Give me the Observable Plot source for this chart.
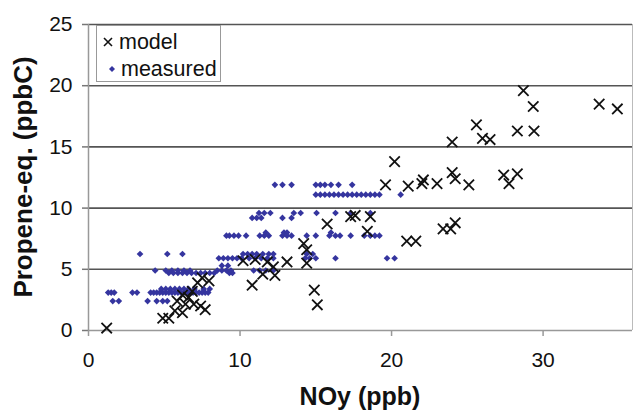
<!DOCTYPE html>
<html>
<head>
<meta charset="utf-8">
<script src="https://cdn.jsdelivr.net/npm/d3@7"></script>
<script src="https://cdn.jsdelivr.net/npm/@observablehq/plot@0.6"></script>
<style>
  html, body { margin: 0; padding: 0; background: #fff; }
  #wrap { position: relative; width: 633px; height: 412px; font-family: "Liberation Sans", Arial, sans-serif; }
  #legend { position: absolute; left: 96px; top: 25px; width: 125px; height: 57px; border: 1px solid #999; background: #fff; box-sizing: border-box; font-size: 21.5px; color: #111; }
  #legend .row { position: absolute; left: 0; height: 24px; display: flex; align-items: center; white-space: nowrap; }
  #legend svg { display: block; }
</style>
</head>
<body>
<div id="wrap"></div>
<script>
// ---- data ----
const xTicks = [0, 10, 20, 30];
const yTicks = [0, 5, 10, 15, 20, 25];
const xTitle = "NOy (ppb)";
const yTitle = "Propene-eq. (ppbC)";
const seriesNames = ["model", "measured"];

// model (× markers)
const modelX = [1.2,
  4.9, 5.3, 5.7, 6.2, 5.85, 6.4, 6.6, 6.2, 6.95, 7.4, 7.7, 6.85, 7.2, 7.5, 7.95,
  10.2, 10.8, 11.0, 11.5, 11.8, 12.3, 12.2, 13.1,
  14.2, 14.4, 14.4, 14.9, 15.1,
  15.75, 17.3, 17.6, 18.6, 18.4,
  19.6, 20.2, 21.1, 22.0, 22.1, 23.0,
  21.0, 21.6, 23.4, 23.9, 24.2,
  24.0, 24.2, 25.1, 24.0, 25.6, 26.0, 26.5,
  27.4, 27.75, 28.3,
  28.3, 29.4, 28.7, 29.35,
  33.7, 34.9];
const modelY = [0.2,
  1.0, 1.0, 1.6, 1.45, 2.4, 2.15, 2.7, 2.9, 2.15, 2.0, 1.7, 3.2, 3.9, 4.3, 4.05,
  5.7, 3.7, 5.8, 4.6, 5.6, 4.5, 5.2, 5.6,
  7.1, 6.6, 5.5, 3.3, 2.1,
  8.7, 9.3, 9.4, 9.3, 8.1,
  11.9, 13.8, 11.8, 12.0, 12.3, 12.0,
  7.3, 7.3, 8.3, 8.3, 8.8,
  12.9, 12.4, 11.9, 15.4, 16.8, 15.7, 15.6,
  12.7, 12.0, 12.8,
  16.3, 16.3, 19.6, 18.3,
  18.5, 18.1];

// measured (blue diamonds), grouped by the level they sit on
const measuredLevels = [2.4, 3.1, 3.4, 4.7, 4.9, 5.3, 5.9, 6.25, 7.75, 8.0, 9.2, 9.6, 11.1, 11.9];
const measuredRows = [
  [1.6, 2.0, 3.9, 4.5, 4.9, 5.2],
  [1.3, 1.5, 1.7, 2.9, 3.2, 4.1, 4.3, 4.5, 4.7, 4.9, 5.1, 5.3, 5.5, 5.7, 5.9, 6.1, 6.3, 6.5, 6.7, 6.9, 7.1, 7.3, 7.5, 7.7, 7.9],
  [4.8, 5.1, 5.4, 5.7, 6.0, 6.3, 6.6, 7.0, 7.6, 8.0],
  [5.3, 5.6, 5.9, 6.2, 6.5, 6.8, 7.1, 7.4, 7.7, 8.0, 8.3, 9.3, 9.5],
  [4.4, 5.1, 5.5, 5.9, 6.3, 6.7, 8.5, 8.8, 9.1, 9.4, 10.9, 11.3, 11.7, 12.2],
  [8.8, 9.2],
  [8.6, 8.9, 9.2, 9.5, 9.8, 10.1, 10.6, 11.0, 11.4, 11.8, 12.2, 14.3, 14.6, 15.0, 16.3, 19.7, 20.2],
  [3.4, 5.2, 6.2, 10.2, 10.5, 10.8, 11.1, 11.5, 11.9, 12.2, 14.4, 14.8],
  [9.1, 9.3, 9.6, 9.9, 10.4, 11.3, 11.6, 11.9, 12.8, 13.1, 13.4, 14.4, 15.0, 15.9, 16.3, 16.6, 17.3, 18.2, 18.6, 18.9, 19.2],
  [11.7, 12.9, 13.1, 16.0],
  [10.8, 11.1, 11.4, 12.8, 13.4],
  [11.25, 11.6, 12.0, 13.55, 14.0, 15.05, 16.3, 17.3, 18.6],
  [15.0, 15.3, 15.6, 15.9, 16.2, 16.5, 16.8, 17.1, 17.4, 17.7, 18.0, 18.3, 18.6, 18.9, 19.2, 20.6],
  [12.3, 12.8, 13.4, 15.0, 15.3, 15.6, 16.0, 16.5, 17.4]
];

// ---- tables for Plot ----
const model = modelX.map((x, i) => ({x, y: modelY[i]}));
const measured = measuredLevels.flatMap((y, i) => measuredRows[i].map(x => ({x, y})));

const W = 633, H = 412;
const chart = Plot.plot({
  width: W, height: H,
  marginLeft: 88, marginRight: 1, marginTop: 24, marginBottom: 82,
  x: {domain: [0, 35.9]},
  y: {domain: [0, 25]},
  style: {fontFamily: "'Liberation Sans', Arial, sans-serif", fontSize: "21px", color: "#111", background: "#fff", overflow: "visible"},
  marks: [
    Plot.gridY(yTicks.filter(d => d > 0), {stroke: "#555", strokeOpacity: 1, strokeWidth: 1.6}),
    Plot.ruleX([35.9], {stroke: "#bbb", strokeWidth: 1}),
    Plot.ruleX([0], {stroke: "#999", strokeWidth: 1.5}),
    Plot.ruleY([0], {stroke: "#999", strokeWidth: 1.5}),
    Plot.axisY({ticks: yTicks, tickSize: 6, tickPadding: 10, label: null, stroke: "#777", strokeWidth: 1.5}),
    Plot.axisX({ticks: xTicks, tickSize: 6, tickPadding: 16, label: null, stroke: "#999", strokeWidth: 1.5}),
    Plot.dot(measured, {x: "x", y: "y", symbol: "diamond2", r: 3.0, fill: "#35359f", stroke: null}),
    Plot.dot(model, {x: "x", y: "y", symbol: "times", r: 4.8, stroke: "#111", strokeWidth: 1.8})
  ]
});

const svg = d3.select(chart);
svg.append("text")
  .attr("x", 360).attr("y", 405)
  .attr("text-anchor", "middle")
  .attr("font-weight", "bold").attr("font-size", 25).attr("fill", "#111")
  .text(xTitle);
svg.append("text")
  .attr("transform", "translate(32,177) rotate(-90)")
  .attr("text-anchor", "middle")
  .attr("font-weight", "bold").attr("font-size", 26).attr("fill", "#111")
  .text(yTitle);

const wrap = document.getElementById("wrap");
wrap.appendChild(chart);

// legend
const legend = document.createElement("div");
legend.id = "legend";
legend.innerHTML = `
  <div class="row" style="top:4px;left:5px">
    <svg width="12" height="12" viewBox="-6 -6 12 12"><path d="M-4,-4L4,4M-4,4L4,-4" stroke="#111" stroke-width="1.6"/></svg>
    <span style="margin-left:5px">${seriesNames[0]}</span>
  </div>
  <div class="row" style="top:31px;left:12px">
    <svg width="6" height="6" viewBox="-3 -3 6 6"><path d="M0,-3L3,0L0,3L-3,0Z" fill="#35359f"/></svg>
    <span style="margin-left:6px">${seriesNames[1]}</span>
  </div>`;
wrap.appendChild(legend);
</script>
</body>
</html>
